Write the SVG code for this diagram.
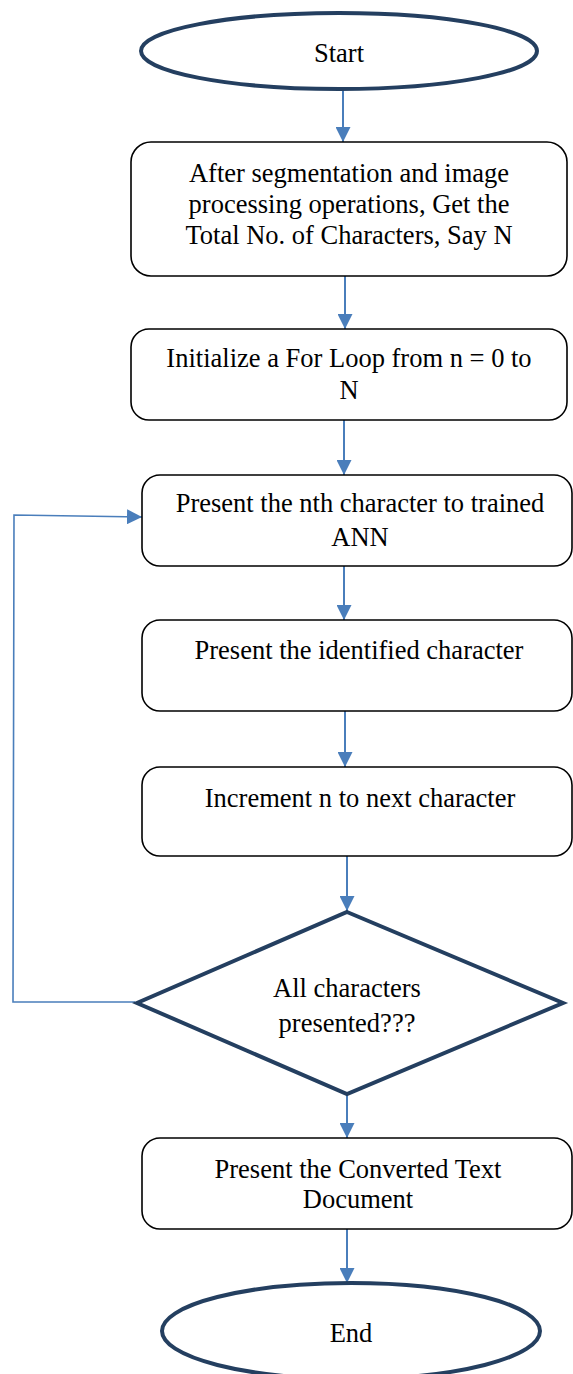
<svg xmlns="http://www.w3.org/2000/svg" width="573" height="1374" viewBox="0 0 573 1374">
  <style>
    .term { fill: #ffffff; stroke: #243F60; stroke-width: 4; }
    .box { fill: #ffffff; stroke: #000000; stroke-width: 1.6; }
    .lbl { font-family: "Liberation Serif", "Times New Roman", serif; font-size: 26.5px; fill: #000000; text-anchor: middle; }
    .flow { fill: none; stroke: #4A7EBB; stroke-width: 2; }
    .loop { fill: none; stroke: #4A7EBB; stroke-width: 1.6; }
  </style>
  <defs>
    <marker id="arrow" markerUnits="userSpaceOnUse" markerWidth="15" markerHeight="15" viewBox="0 0 15 15" refX="15" refY="7.5" orient="auto">
      <path d="M0,0 L15,7.5 L0,15 z" fill="#4A7EBB"/>
    </marker>
  </defs>

  <!-- connectors -->
  <g id="connectors">
    <line class="flow" x1="343" y1="90" x2="343" y2="142" marker-end="url(#arrow)"/>
    <line class="flow" x1="345" y1="276" x2="345" y2="329" marker-end="url(#arrow)"/>
    <line class="flow" x1="344" y1="420" x2="344" y2="475" marker-end="url(#arrow)"/>
    <line class="flow" x1="344" y1="566" x2="344" y2="620" marker-end="url(#arrow)"/>
    <line class="flow" x1="345" y1="711" x2="345" y2="767" marker-end="url(#arrow)"/>
    <line class="flow" x1="347" y1="856" x2="347" y2="911" marker-end="url(#arrow)"/>
    <line class="flow" x1="347" y1="1085" x2="347" y2="1138" marker-end="url(#arrow)"/>
    <line class="flow" x1="347" y1="1229" x2="347" y2="1283" marker-end="url(#arrow)"/>
    <polyline class="loop" points="135,1002 13,1002 14,515 142,517" marker-end="url(#arrow)"/>
  </g>

  <g id="start">
    <ellipse class="term" cx="339" cy="51" rx="198" ry="38"/>
    <text class="lbl" x="339" y="62">Start</text>
  </g>

  <g id="get-count">
    <rect class="box" x="131" y="142" width="436" height="134" rx="20"/>
    <text class="lbl" x="349" y="182">After segmentation and image</text>
    <text class="lbl" x="349" y="213">processing operations, Get the</text>
    <text class="lbl" x="349" y="244">Total No. of Characters, Say N</text>
  </g>

  <g id="init-loop">
    <rect class="box" x="131" y="329" width="436" height="91" rx="18"/>
    <text class="lbl" x="349" y="367">Initialize a For Loop from n = 0 to</text>
    <text class="lbl" x="349" y="399">N</text>
  </g>

  <g id="present-ann">
    <rect class="box" x="142" y="475" width="430" height="91" rx="18"/>
    <text class="lbl" x="360" y="512">Present the nth character to trained</text>
    <text class="lbl" x="360" y="546">ANN</text>
  </g>

  <g id="present-identified">
    <rect class="box" x="142" y="620" width="430" height="91" rx="18"/>
    <text class="lbl" x="359" y="659">Present the identified character</text>
  </g>

  <g id="increment">
    <rect class="box" x="142" y="767" width="430" height="89" rx="18"/>
    <text class="lbl" x="360" y="807">Increment n to next character</text>
  </g>

  <g id="decision">
    <polygon class="term" points="347,912 563,1003 347,1094 137,1003"/>
    <text class="lbl" x="347" y="997">All characters</text>
    <text class="lbl" x="347" y="1032">presented???</text>
  </g>

  <g id="output-doc">
    <rect class="box" x="142" y="1138" width="430" height="91" rx="18"/>
    <text class="lbl" x="358" y="1178">Present the Converted Text</text>
    <text class="lbl" x="358" y="1208">Document</text>
  </g>

  <g id="end">
    <ellipse class="term" cx="351" cy="1331" rx="189" ry="48"/>
    <text class="lbl" x="351" y="1342">End</text>
  </g>
</svg>
